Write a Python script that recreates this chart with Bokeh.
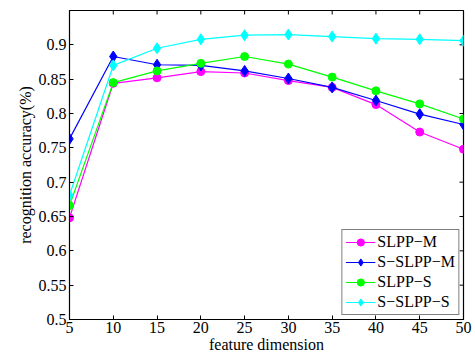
import math
from bokeh.plotting import figure
from bokeh.models import Range1d, FixedTicker, Legend, LegendItem
from bokeh.embed import file_html
from bokeh.resources import INLINE

dims = [5, 10, 15, 20, 25, 30, 35, 40, 45, 50]
slpp_m = [0.648, 0.844, 0.852, 0.861, 0.859, 0.848, 0.838, 0.813, 0.773, 0.748]
s_slpp_m = [0.763, 0.883, 0.871, 0.870, 0.862, 0.851, 0.838, 0.819, 0.799, 0.784]
slpp_s = [0.666, 0.845, 0.862, 0.873, 0.883, 0.872, 0.853, 0.833, 0.814, 0.792]
s_slpp_s = [0.681, 0.870, 0.895, 0.908, 0.914, 0.915, 0.912, 0.909, 0.908, 0.906]
x_ticks = [5, 10, 15, 20, 25, 30, 35, 40, 45, 50]
y_ticks = [0.5, 0.55, 0.6, 0.65, 0.7, 0.75, 0.8, 0.85, 0.9]
x_min, x_max = 5, 50
y_min, y_max = 0.5, 0.95

FONT = "Liberation Serif"

p = figure(width=475, height=357, output_backend="svg", toolbar_location=None,
           x_range=Range1d(x_min, x_max), y_range=Range1d(y_min, y_max),
           min_border_left=69, min_border_top=10, min_border_right=12, min_border_bottom=38)
p.background_fill_color = "white"
p.border_fill_color = "white"
p.outline_line_color = "black"
p.outline_line_width = 1.2
p.grid.visible = False

xax = p.xaxis[0]
yax = p.yaxis[0]
for ax in [xax, yax]:
    ax.major_tick_in = 4
    ax.major_tick_out = 0
    ax.minor_tick_in = 0
    ax.minor_tick_out = 0
    ax.axis_line_color = "black"
    ax.major_label_text_font = FONT
    ax.major_label_text_font_size = "16px"
    ax.major_label_text_color = "black"
    ax.axis_label_text_font = FONT
    ax.axis_label_text_font_size = "16px"
    ax.axis_label_text_font_style = "normal"
    ax.axis_label_text_color = "black"

xax.ticker = FixedTicker(ticks=x_ticks)
yax.ticker = FixedTicker(ticks=y_ticks)
yax.major_label_overrides = {0.5: "0.5", 0.6: "0.6", 0.7: "0.7", 0.8: "0.8", 0.9: "0.9"}
xax.axis_label = "feature dimension"
yax.axis_label = "recognition accuracy(%)"
xax.major_label_standoff = 2
xax.axis_label_standoff = 0
yax.major_label_standoff = 3
yax.axis_label_standoff = 2

# mirrored ticks on top and right edges
p.ray(x=x_ticks, y=[y_max] * len(x_ticks), length=4, length_units="screen",
      angle=-math.pi / 2, line_color="black", line_width=1)
p.ray(x=[x_max] * len(y_ticks), y=y_ticks, length=4, length_units="screen",
      angle=math.pi, line_color="black", line_width=1)

series = [
    ("SLPP\u2212M", slpp_m, "#ff00ff", "circle", 8),
    ("S\u2212SLPP\u2212M", s_slpp_m, "#0000ff", "diamond", 11),
    ("SLPP\u2212S", slpp_s, "#00ff00", "circle", 8),
    ("S\u2212SLPP\u2212S", s_slpp_s, "#00ffff", "diamond", 11),
]
items = []
for name, vals, col, mk, sz in series:
    l = p.line(dims, vals, line_color=col, line_width=1.2)
    s = p.scatter(dims, vals, marker=mk, size=sz, fill_color=col, line_color=col)
    items.append(LegendItem(label=name, renderers=[l, s]))

legend = Legend(items=items, location="bottom_right")
legend.label_text_font = FONT
legend.label_text_font_size = "16px"
legend.label_text_color = "black"
legend.border_line_color = "black"
legend.border_line_width = 1
legend.background_fill_alpha = 1
legend.glyph_width = 30
legend.glyph_height = 18
legend.label_height = 18
legend.spacing = 2
legend.padding = 3
legend.margin = 4
legend.label_standoff = 2
p.add_layout(legend, "center")

open("out.html", "w").write(file_html(p, INLINE))
